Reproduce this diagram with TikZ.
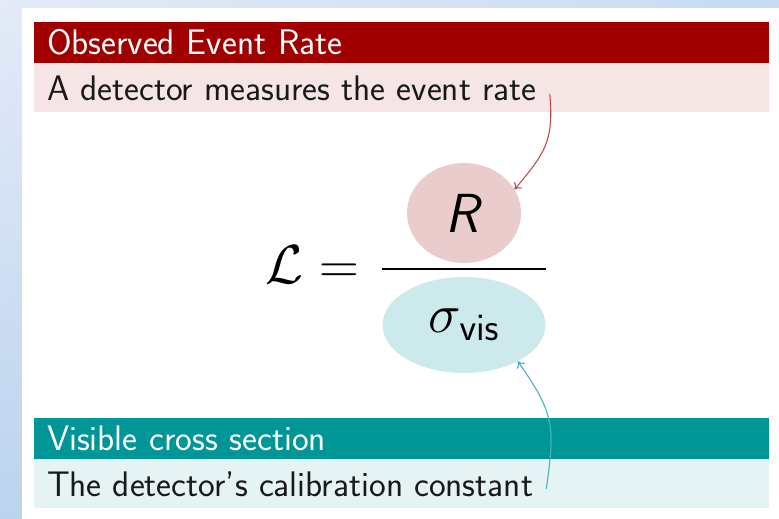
\RequirePackage{fix-cm}
\documentclass[tikz,border=0pt]{standalone}
\usepackage{tikz}
\usetikzlibrary{shapes.geometric, arrows.meta, positioning, shadings}
\definecolor{obsred}{RGB}{160, 0, 0}
\definecolor{obspink}{RGB}{245, 229, 229}
\definecolor{ratefill}{RGB}{235, 204, 204}
\definecolor{ratearrow}{RGB}{192, 78, 78}
\definecolor{visteal}{RGB}{0, 150, 152}
\definecolor{vislight}{RGB}{229, 243, 244}
\definecolor{sigfill}{RGB}{204, 234, 236}
\definecolor{sigarrow}{RGB}{70, 182, 190}
\definecolor{slidetl}{RGB}{228, 235, 247}
\definecolor{slidetr}{RGB}{198, 220, 242}
\definecolor{slidebl}{RGB}{188, 211, 238}
\definecolor{slidebr}{RGB}{190, 214, 240}
\newcommand{\slidefont}{\fontsize{35.5}{40}\selectfont\sffamily}
\newcommand{\eqfont}{\fontsize{55}{62}\selectfont}

\begin{document}
\begin{tikzpicture}[x=1pt, y=1pt, node distance=0pt and 0pt,
    >={Computer Modern Rightarrow[length=6pt, width=10pt]},
    headbox/.style={rectangle, minimum width=735pt, minimum height=41pt, text width=709pt, inner xsep=13pt, inner ysep=0pt, align=left, text=white, font=\slidefont},
    bodybox/.style={rectangle, minimum width=735pt, minimum height=49pt, inner sep=0pt},
    desctext/.style={anchor=west, inner xsep=13pt, inner ysep=0pt, text=black!90, font=\slidefont},
    blob/.style={ellipse, inner sep=0pt, font=\eqfont}]
  \shade[upper left=slidetl, upper right=slidetr, lower left=slidebl, lower right=slidebr] (0,0) rectangle (779,519);
  \fill[white] (22,0) rectangle (779,511);

  \node (obshead) [headbox, fill=obsred] at (401.5,476.5) {Observed Event Rate};
  \node (obsbody) [bodybox, fill=obspink, below=of obshead] {};
  \node (obstext) [desctext] at (obsbody.west) {A detector measures the event rate};

  \node (vishead) [headbox, fill=visteal] at (401.5,80.5) {Visible cross section};
  \node (visbody) [bodybox, fill=vislight, below=of vishead] {};
  \node (vistext) [desctext] at (visbody.west) {The detector's calibration constant};

  \node (rate) [blob, fill=ratefill, minimum width=114pt, minimum height=100pt] at (464,306) {\textsf{\textit{R}}};
  \node (sig) [blob, fill=sigfill, minimum width=163pt, minimum height=96pt] at (464,194) {$\sigma_{\mathsf{vis}}$};
  \node (lhs) [anchor=east, inner sep=0pt, font=\eqfont] at (359,254) {$\mathcal{L} =$};
  \coordinate (barmid) at (464,250);
  \draw[line width=2pt] (barmid -| sig.west) -- (barmid -| sig.east);

  \draw[->, line width=1.1pt, ratearrow] ([yshift=-6pt]obstext.east) to[out=-85, in=50, looseness=1.2] (rate.25);
  \draw[->, line width=1.1pt, sigarrow] ([yshift=-5pt]vistext.east) to[out=82, in=-55, looseness=1.25] (sig.-34);
\end{tikzpicture}
\end{document}
